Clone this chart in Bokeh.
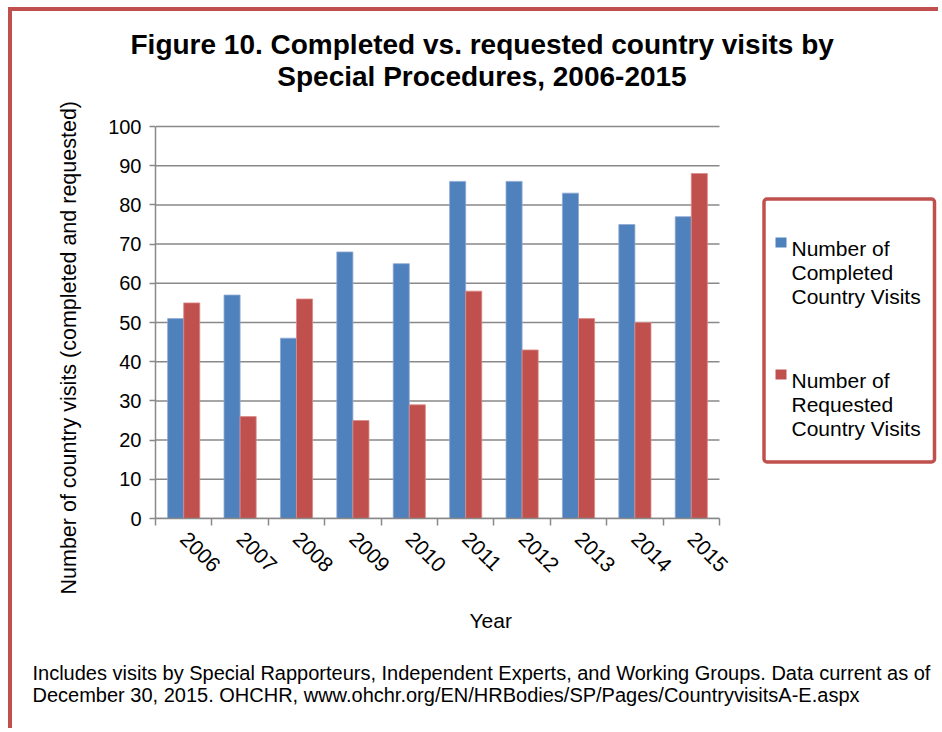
import math
from bokeh.plotting import figure
from bokeh.models import FixedTicker, Range1d, Title, Label, BoxAnnotation
from bokeh.embed import file_html
from bokeh.resources import INLINE

# ---- data ----
years = ["2006", "2007", "2008", "2009", "2010", "2011", "2012", "2013", "2014", "2015"]
completed = [51, 57, 46, 68, 65, 86, 86, 83, 75, 77]
requested = [55, 26, 56, 25, 29, 58, 43, 51, 50, 88]
y_ticks = [0, 10, 20, 30, 40, 50, 60, 70, 80, 90, 100]

title_lines = ["Figure 10. Completed vs. requested country visits by",
               "Special Procedures, 2006-2015"]
y_title = "Number of country visits (completed and requested)"
x_title = "Year"
legend_completed = ["Number of", "Completed", "Country Visits"]
legend_requested = ["Number of", "Requested", "Country Visits"]
note_text = ("Includes visits by Special Rapporteurs, Independent Experts, and Working Groups. Data current as of\n"
             "December 30, 2015. OHCHR, www.ohchr.org/EN/HRBodies/SP/Pages/CountryvisitsA-E.aspx")

BLUE = "#4F81BD"
RED = "#C0504D"
GRAY = "#898989"
FONT = "Liberation Sans"

# ---- layout ----
OX, OY = 12, 11                 # canvas origin on the page (after css border)
W, H = 930, 721                 # canvas size
PL, PR, PT, PB = 155, 938, 59, 518   # frame edges on the page
NCAT = len(years)
PX_PER_CAT = 56.4
PX_PER_UNIT = 3.92

def dx(px):
    return (px - PL) / PX_PER_CAT

def dy(py):
    return (PB - py) / PX_PER_UNIT

p = figure(width=W, height=H, output_backend="svg", toolbar_location=None,
           x_range=Range1d(0, dx(PR)), y_range=Range1d(0, dy(PT)),
           min_border_left=PL - OX, min_border_right=W - (PR - OX),
           min_border_top=PT - OY, min_border_bottom=H - (PB - OY))
p.styles = {"margin-left": "8px", "margin-top": "7px",
            "border-left": "4px solid #C0504D", "border-top": "4px solid #C0504D"}
p.outline_line_color = None
p.background_fill_color = "white"
p.border_fill_color = "white"
p.title.text = ""
p.title.standoff = 0
p.title.visible = False
p.xgrid.visible = False
p.ygrid.visible = False

# horizontal gridlines limited to the category area
p.segment(x0=[0] * len(y_ticks), x1=[NCAT] * len(y_ticks), y0=y_ticks, y1=y_ticks,
          line_color=GRAY, line_width=1.5, level="underlay")

xs = [i + 0.5 for i in range(NCAT)]
bw = 0.285
p.vbar(x=[x - 0.1425 for x in xs], top=completed, width=bw, fill_color=BLUE,
       line_color="#8FAAD3", line_width=0.8)
p.vbar(x=[x + 0.1425 for x in xs], top=requested, width=bw, fill_color=RED,
       line_color="#D98A88", line_width=0.8)

# y axis
p.yaxis.bounds = (0, 100)
p.yaxis.ticker = FixedTicker(ticks=y_ticks)
p.yaxis.axis_line_color = GRAY
p.yaxis.axis_line_width = 1.5
p.yaxis.major_tick_line_color = GRAY
p.yaxis.major_tick_line_width = 1.5
p.yaxis.major_tick_out = 6
p.yaxis.major_tick_in = 0
p.yaxis.minor_tick_line_color = None
p.yaxis.major_label_standoff = 8
p.yaxis.major_label_text_font = FONT
p.yaxis.major_label_text_font_size = "20px"
p.yaxis.major_label_text_color = "black"

# x axis: labels at category centres, tick marks at category boundaries
p.xaxis.bounds = (0, NCAT)
p.xaxis.ticker = FixedTicker(ticks=xs, minor_ticks=list(range(NCAT + 1)))
p.xaxis.major_label_overrides = {x: yr for x, yr in zip(xs, years)}
p.xaxis.major_label_orientation = -math.pi / 4
p.xaxis.major_label_standoff = 10
p.xaxis.major_label_text_font = FONT
p.xaxis.major_label_text_font_size = "21px"
p.xaxis.major_label_text_color = "black"
p.xaxis.axis_line_color = GRAY
p.xaxis.axis_line_width = 1.5
p.xaxis.major_tick_line_color = None
p.xaxis.minor_tick_line_color = GRAY
p.xaxis.minor_tick_line_width = 1.5
p.xaxis.minor_tick_out = 7
p.xaxis.minor_tick_in = 0

# chart title: first line above the frame, second line inside it
p.add_layout(Title(text=title_lines[0], align="left", offset=-25, standoff=0,
                   text_font=FONT, text_font_size="28px", text_font_style="bold",
                   text_color="black"), "above")
p.add_layout(Label(x=dx(481.5), y=dy(76), text=title_lines[1], text_align="center",
                   text_baseline="alphabetic", text_font=FONT, text_font_size="28px",
                   text_font_style="bold", text_color="black"))

# legend (drawn inside the frame area, right of the bars)
p.add_layout(BoxAnnotation(left=dx(763.5), right=dx(934), top=dy(198.5), bottom=dy(461.5),
                           fill_color="white", fill_alpha=1.0, line_color=RED, line_alpha=1.0,
                           line_width=3.5, border_radius=3, level="annotation"))
for base, color, lines in [(248, BLUE, legend_completed), (380, RED, legend_requested)]:
    p.add_layout(BoxAnnotation(left=dx(775), right=dx(786), top=dy(base - 11), bottom=dy(base - 1),
                               fill_color=color, fill_alpha=1.0, line_color=None, level="overlay"))
    for k, t in enumerate(lines):
        p.add_layout(Label(x=dx(791), y=dy(base + 24 * k), text=t, text_align="left",
                           text_baseline="alphabetic", text_font=FONT, text_font_size="21px",
                           text_color="black", level="overlay"))

# y title on the left
p.add_layout(Title(text=y_title, align="left", offset=-76, standoff=49,
                   text_font=FONT, text_font_size="21.5px", text_font_style="normal",
                   text_color="black"), "left")

# below: x title and footnote
p.add_layout(Title(text=x_title, align="left", offset=314, standoff=51,
                   text_font=FONT, text_font_size="21px", text_font_style="normal",
                   text_color="black"), "below")
p.add_layout(Title(text=note_text, align="left", offset=-123, standoff=5,
                   text_font=FONT, text_font_size="20px", text_font_style="normal",
                   text_color="black"), "below")

open("out.html", "w").write(file_html(p, INLINE))
